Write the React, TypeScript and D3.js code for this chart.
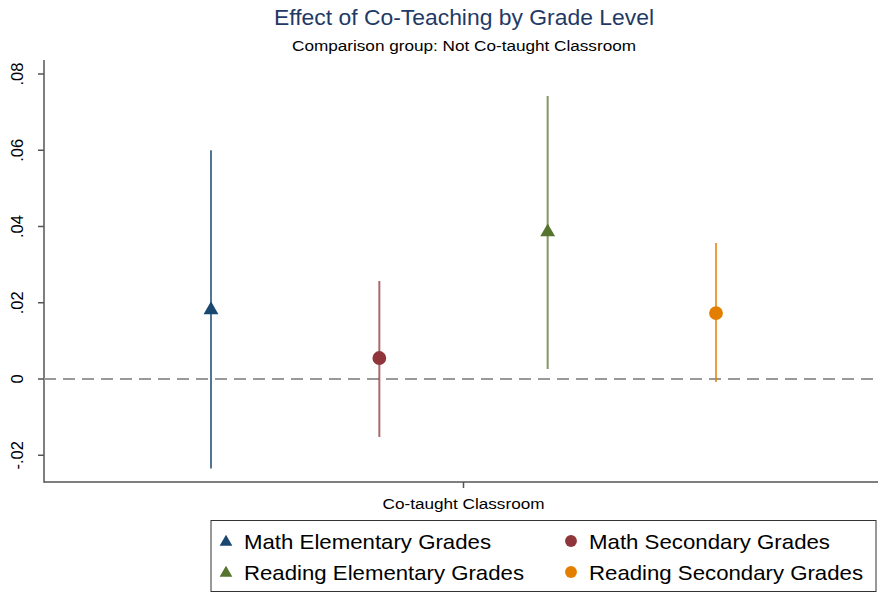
import { useEffect, useRef } from "react";
import * as d3 from "d3";

// coefficient estimates with 95% CI
const groups = ["Math Elementary Grades", "Math Secondary Grades", "Reading Elementary Grades", "Reading Secondary Grades"];
const estimates = [0.0184, 0.0055, 0.0388, 0.0173];
const ciLow = [-0.0235, -0.0152, 0.0026, -0.0008];
const ciHigh = [0.0600, 0.0257, 0.0742, 0.0357];
const symbols = ["triangle", "circle", "triangle", "circle"];
const colors = ["#1a476f", "#90353b", "#55752f", "#e37e00"];
const yTicks = [-0.02, 0, 0.02, 0.04, 0.06, 0.08];
const xLabel = "Co-taught Classroom";

const W = 878;
const H = 594;

function fmt(v: number) {
  if (v === 0) return "0";
  // stata style: no leading zero, plain hyphen for minus
  return d3.format(".2f")(v).replace("\u2212", "-").replace("0.", ".");
}

export default function App() {
  const ref = useRef<SVGSVGElement | null>(null);

  useEffect(() => {
    const svg = d3.select(ref.current);
    svg.selectAll("*").remove();

    const left = 44, right = W, top = 60, bottom = 482;

    const y = d3.scaleLinear().domain([0, 0.08]).range([379, 74]);
    const x = d3.scalePoint<number>().domain(d3.range(groups.length)).range([211, 716]);

    svg.append("rect").attr("width", W).attr("height", H).attr("fill", "#fff");

    // title
    svg.append("text").attr("x", 464).attr("y", 25).attr("text-anchor", "middle")
      .attr("font-size", 22).attr("fill", "#1f3a66")
      .attr("textLength", 380).attr("lengthAdjust", "spacingAndGlyphs")
      .text("Effect of Co-Teaching by Grade Level");
    svg.append("text").attr("x", 464).attr("y", 51).attr("text-anchor", "middle")
      .attr("font-size", 15.5).attr("fill", "#000")
      .attr("textLength", 344).attr("lengthAdjust", "spacingAndGlyphs")
      .text("Comparison group: Not Co-taught Classroom");

    // axes
    const ax = svg.append("g").attr("stroke", "#555").attr("stroke-width", 1.5);
    ax.append("line").attr("x1", left).attr("x2", left).attr("y1", top).attr("y2", bottom + 0.75);
    ax.append("line").attr("x1", left).attr("x2", right).attr("y1", bottom).attr("y2", bottom);

    const ty = svg.append("g");
    yTicks.forEach((t) => {
      ty.append("line").attr("x1", left - 6).attr("x2", left).attr("y1", y(t)).attr("y2", y(t))
        .attr("stroke", "#555").attr("stroke-width", 1.5);
      ty.append("text")
        .attr("transform", `translate(${left - 27},${y(t)}) rotate(-90)`)
        .attr("text-anchor", "middle").attr("dy", "0.35em")
        .attr("font-size", 16.5).attr("fill", "#000").text(fmt(t));
    });

    // x tick and label
    const xc = (x(0)! + x(groups.length - 1)!) / 2;
    svg.append("line").attr("x1", xc).attr("x2", xc).attr("y1", bottom).attr("y2", bottom + 6)
      .attr("stroke", "#555").attr("stroke-width", 1.5);
    svg.append("text").attr("x", xc).attr("y", bottom + 27).attr("text-anchor", "middle")
      .attr("font-size", 15.5).attr("fill", "#000")
      .attr("textLength", 162).attr("lengthAdjust", "spacingAndGlyphs")
      .text(xLabel);

    // reference line at zero
    svg.append("line").attr("x1", left).attr("x2", right).attr("y1", y(0)).attr("y2", y(0))
      .attr("stroke", "#999").attr("stroke-width", 2).attr("stroke-dasharray", "12 7");

    const tri = d3.symbol().type(d3.symbolTriangle).size(95);
    const circ = d3.symbol().type(d3.symbolCircle).size(150);

    groups.forEach((g, i) => {
      svg.append("line").attr("x1", x(i)!).attr("x2", x(i)!)
        .attr("y1", y(ciLow[i])).attr("y2", y(ciHigh[i]))
        .attr("stroke", colors[i]).attr("stroke-opacity", 0.75).attr("stroke-width", 2);
      svg.append("path").attr("d", (symbols[i] === "triangle" ? tri : circ)() as string)
        .attr("transform", `translate(${x(i)},${y(estimates[i]) + (symbols[i] === "triangle" ? 1 : 0)})`)
        .attr("fill", colors[i]);
    });

    // legend
    const lg = svg.append("g");
    lg.append("rect").attr("x", 211).attr("y", 520.5).attr("width", 665).attr("height", 71)
      .attr("fill", "#fff").attr("stroke", "#333").attr("stroke-width", 1);
    const legendWidths = [247, 241, 280, 274];
    groups.forEach((g, i) => {
      const col = i % 2, row = Math.floor(i / 2);
      const mx = col === 0 ? 226 : 571;
      const my = row === 0 ? 541 : 572;
      const sym = symbols[i] === "triangle" ? d3.symbol().type(d3.symbolTriangle).size(70)
        : d3.symbol().type(d3.symbolCircle).size(110);
      lg.append("path").attr("d", sym() as string)
        .attr("transform", `translate(${mx},${my + (symbols[i] === "triangle" ? 1 : 0)})`)
        .attr("fill", colors[i]);
      lg.append("text").attr("x", mx + 18).attr("y", my).attr("dy", "0.36em")
        .attr("font-size", 21).attr("fill", "#000")
        .attr("textLength", legendWidths[i]).attr("lengthAdjust", "spacingAndGlyphs")
        .text(g);
    });
  }, []);

  return (
    <svg ref={ref} width={W} height={H}
      style={{ position: "absolute", left: 0, top: 0, fontFamily: "'Liberation Sans', Arial, sans-serif" }} />
  );
}
